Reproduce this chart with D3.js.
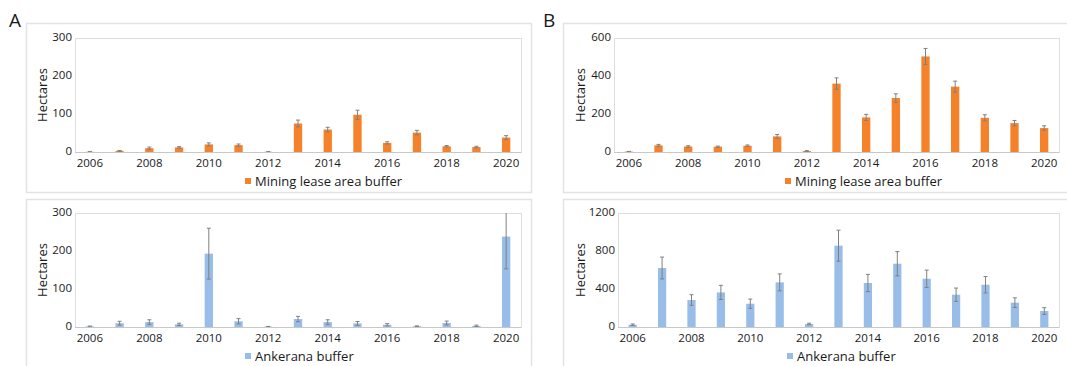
<!DOCTYPE html>
<html>
<head>
<meta charset="utf-8">
<script src="https://cdn.jsdelivr.net/npm/d3@7"></script>
<style>
  body { margin: 0; background: #fff; }
  text { font-family: "Open Sans", sans-serif; fill: #1a1a1a; }
</style>
</head>
<body>
<div id="chart"></div>
<script>
// data
const years = [2006, 2007, 2008, 2009, 2010, 2011, 2012, 2013, 2014, 2015, 2016, 2017, 2018, 2019, 2020];
const yearLabels = [2006, 2008, 2010, 2012, 2014, 2016, 2018, 2020];

// A - mining lease area buffer
const miningA = [0.5, 3, 10, 12, 20, 18, 0.5, 75, 59, 98, 24, 51, 15, 13, 38];
const miningAErr = [0.5, 1, 3, 2, 4, 3, 0.5, 9, 6, 12, 3, 6, 2, 2, 5];
// A - Ankerana buffer
const ankeranaA = [1.5, 10, 13, 7, 193, 15, 1, 21, 13, 9.5, 6, 2, 10.5, 3, 238];
const ankeranaAErr = [1, 5, 6, 3, 67, 7, 0.5, 7, 6, 5, 3, 1, 5, 2, 85];
// B - mining lease area buffer
const miningB = [2, 35, 29, 28, 33, 82, 5, 360, 182, 284, 503, 344, 180, 152, 126];
const miningBErr = [1, 5, 4, 3, 4, 10, 2, 30, 16, 22, 42, 29, 16, 14, 12];
// B - Ankerana buffer
const ankeranaB = [24, 621, 284, 364, 245, 470, 32, 856, 463, 666, 508, 340, 445, 256, 168];
const ankeranaBErr = [8, 115, 56, 74, 49, 89, 8, 163, 91, 128, 91, 70, 86, 51, 35];

const ticksA = [0, 100, 200, 300];
const ticksBTop = [0, 200, 400, 600];
const ticksBBottom = [0, 400, 800, 1200];

const orange = "#f5822a";
const blue = "#98bde8";

const svg = d3.select("#chart").append("svg")
    .attr("width", 1067)
    .attr("height", 366);

function drawPanel(p) {
    // chart area frame
    svg.append("rect")
        .attr("x", p.box[0] + 0.5).attr("y", p.box[1] + 0.5)
        .attr("width", p.box[2]).attr("height", p.box[3])
        .attr("fill", "none").attr("stroke", "#e3e3e3").attr("stroke-width", 1.5);

    let x = d3.scaleBand()
        .domain(years)
        .range([p.plot[0], p.plot[0] + p.plot[2]])
        .paddingInner(0.72).paddingOuter(0.36);
    let yMax = p.ticks[p.ticks.length - 1];
    let y = d3.scaleLinear()
        .domain([0, yMax])
        .range([p.plot[1] + p.plot[3], p.plot[1]]);

    // plot area border
    svg.append("rect")
        .attr("x", p.plot[0] + 0.5).attr("y", p.plot[1] + 0.5)
        .attr("width", p.plot[2]).attr("height", p.plot[3])
        .attr("fill", "none").attr("stroke", "#dedede");

    // bars
    svg.append("g").selectAll("rect")
        .data(p.values)
        .enter()
        .append("rect")
        .attr("x", (d, i) => x(years[i]))
        .attr("y", d => y(d))
        .attr("width", x.bandwidth())
        .attr("height", d => y(0) - y(d))
        .attr("fill", p.color);

    // error bars
    let eb = svg.append("g").attr("stroke", "#808080").attr("stroke-width", 1);
    p.values.forEach((v, i) => {
        let cx = x(years[i]) + x.bandwidth() / 2;
        let hi = y(Math.min(yMax, v + p.err[i]));
        let lo = y(Math.max(0, v - p.err[i]));
        eb.append("line").attr("x1", cx).attr("x2", cx).attr("y1", hi).attr("y2", lo);
        if (v + p.err[i] <= yMax) {
            eb.append("line").attr("x1", cx - 2).attr("x2", cx + 2).attr("y1", hi).attr("y2", hi);
        }
        eb.append("line").attr("x1", cx - 2).attr("x2", cx + 2).attr("y1", lo).attr("y2", lo);
    });

    // x axis baseline
    svg.append("line")
        .attr("x1", p.plot[0]).attr("x2", p.plot[0] + p.plot[2])
        .attr("y1", y(0) + 0.5).attr("y2", y(0) + 0.5)
        .attr("stroke", "#c8c8c8");

    // x labels
    svg.append("g").selectAll("text")
        .data(yearLabels)
        .enter()
        .append("text")
        .attr("x", d => x(d) + x.bandwidth() / 2)
        .attr("y", y(0) + 15)
        .attr("text-anchor", "middle")
        .style("font-size", "11.5px")
        .text(d => d);

    // y labels
    svg.append("g").selectAll("text")
        .data(p.ticks)
        .enter()
        .append("text")
        .attr("x", p.plot[0] - 3)
        .attr("y", d => y(d) + 3)
        .attr("text-anchor", "end")
        .style("font-size", "11.5px")
        .text(d => d);

    // y title
    svg.append("text")
        .attr("transform", `translate(${p.titleX}, ${p.plot[1] + p.plot[3] / 2}) rotate(-90)`)
        .attr("text-anchor", "middle")
        .style("font-size", "13px")
        .text("Hectares");

    // legend
    svg.append("rect")
        .attr("x", p.legendX).attr("y", y(0) + 26)
        .attr("width", 6).attr("height", 6)
        .attr("fill", p.color);
    svg.append("text")
        .attr("x", p.legendX + 10)
        .attr("y", y(0) + 34)
        .style("font-size", "13px")
        .text(p.label);
}

drawPanel({box: [26, 23, 505, 169], plot: [75, 38, 446, 114], values: miningA, err: miningAErr,
           color: orange, ticks: ticksA, titleX: 47, legendX: 245, label: "Mining lease area buffer"});
drawPanel({box: [26, 199, 505, 175], plot: [75, 213, 446, 114], values: ankeranaA, err: ankeranaAErr,
           color: blue, ticks: ticksA, titleX: 47, legendX: 245, label: "Ankerana buffer"});
drawPanel({box: [563, 23, 510, 169], plot: [614, 38, 445, 114], values: miningB, err: miningBErr,
           color: orange, ticks: ticksBTop, titleX: 585, legendX: 785, label: "Mining lease area buffer"});
drawPanel({box: [563, 199, 510, 175], plot: [618, 213, 441, 114], values: ankeranaB, err: ankeranaBErr,
           color: blue, ticks: ticksBBottom, titleX: 585, legendX: 787, label: "Ankerana buffer"});

// panel letters
svg.append("text").attr("x", 9).attr("y", 27).style("font-size", "19px").text("A");
svg.append("text").attr("x", 543).attr("y", 27).style("font-size", "19px").text("B");
</script>
</body>
</html>
